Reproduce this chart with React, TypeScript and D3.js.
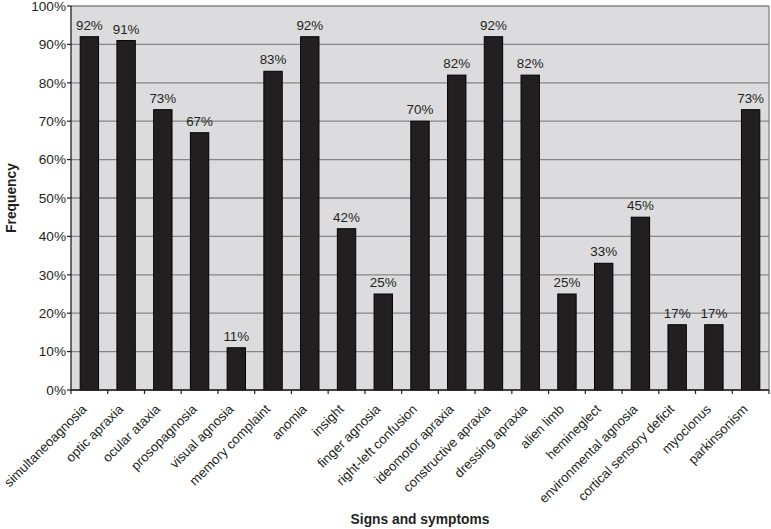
import React from "react";
import * as d3 from "d3";

const categories: string[] = [
  "simultaneoagnosia",
  "optic apraxia",
  "ocular ataxia",
  "prosopagnosia",
  "visual agnosia",
  "memory complaint",
  "anomia",
  "insight",
  "finger agnosia",
  "right-left confusion",
  "ideomotor apraxia",
  "constructive apraxia",
  "dressing apraxia",
  "alien limb",
  "hemineglect",
  "environmental agnosia",
  "cortical sensory deficit",
  "myoclonus",
  "parkinsonism",
];

const frequency: number[] = [
  92, 91, 73, 67, 11, 83, 92, 42, 25, 70, 82, 92, 82, 25, 33, 45, 17, 17, 73,
];

const yTicks: number[] = [0, 10, 20, 30, 40, 50, 60, 70, 80, 90, 100];

const xTitle = "Signs and symptoms";
const yTitle = "Frequency";

export default function App() {
  const W = 771;
  const H = 529;
  const left = 71;
  const right = 769;
  const top = 6;
  const bottom = 390;

  const x = d3
    .scaleBand<string>()
    .domain(categories)
    .range([left, right])
    .paddingInner(0)
    .paddingOuter(0);
  const y = d3.scaleLinear().domain([0, 100]).range([bottom, top]);

  const band = x.bandwidth();
  const barW = band / 2;
  const font = "Liberation Sans, Arial, Helvetica, sans-serif";

  return (
    <svg
      width={W}
      height={H}
      style={{ position: "absolute", left: 0, top: 0, fontFamily: font }}
    >
      <rect x={0} y={0} width={W} height={H} fill="#ffffff" />
      <rect
        x={left}
        y={top}
        width={right - left}
        height={bottom - top}
        fill="#dcdcde"
      />
      {yTicks.map((t) => (
        <line
          key={"g" + t}
          x1={left}
          x2={right}
          y1={y(t)}
          y2={y(t)}
          stroke="#858585"
          strokeWidth={1.3}
        />
      ))}
      <line
        x1={right}
        x2={right}
        y1={top}
        y2={bottom}
        stroke="#858585"
        strokeWidth={1.3}
      />
      {categories.map((c, i) => {
        const cx = (x(c) as number) + band / 2;
        const v = frequency[i];
        return (
          <g key={c}>
            <rect
              x={cx - barW / 2}
              y={y(v)}
              width={barW}
              height={bottom - y(v)}
              fill="#231f20"
              stroke="#000000"
              strokeWidth={1}
            />
            <text
              x={cx}
              y={y(v) - 7}
              textAnchor="middle"
              fontSize={13.4}
              fill="#231f20"
            >
              {v}%
            </text>
          </g>
        );
      })}
      {/* axes */}
      <line x1={left} x2={left} y1={top} y2={bottom} stroke="#231f20" strokeWidth={1.3} />
      <line x1={left} x2={right} y1={bottom} y2={bottom} stroke="#231f20" strokeWidth={1.3} />
      {yTicks.map((t) => (
        <g key={"t" + t}>
          <line x1={left - 4} x2={left} y1={y(t)} y2={y(t)} stroke="#231f20" strokeWidth={1.2} />
          <text
            x={left - 5}
            y={y(t)}
            dy="0.36em"
            textAnchor="end"
            fontSize={13.6}
            fill="#231f20"
          >
            {t}%
          </text>
        </g>
      ))}
      {categories.map((c, i) => (
        <line
          key={"xt" + i}
          x1={x(c) as number}
          x2={x(c) as number}
          y1={bottom}
          y2={bottom + 4}
          stroke="#231f20"
          strokeWidth={1.2}
        />
      ))}
      <line x1={right} x2={right} y1={bottom} y2={bottom + 4} stroke="#231f20" strokeWidth={1.2} />
      {categories.map((c) => {
        const cx = (x(c) as number) + band / 2;
        return (
          <text
            key={"xl" + c}
            transform={`translate(${cx - 2},${bottom + 20}) rotate(-45)`}
            textAnchor="end"
            fontSize={13.2}
            fill="#231f20"
          >
            {c}
          </text>
        );
      })}
      <text
        x={(left + right) / 2}
        y={524}
        textAnchor="middle"
        fontSize={13.8}
        fontWeight="bold"
        fill="#231f20"
      >
        {xTitle}
      </text>
      <text
        transform={`translate(16,${(top + bottom) / 2}) rotate(-90)`}
        textAnchor="middle"
        fontSize={13.8}
        fontWeight="bold"
        fill="#231f20"
      >
        {yTitle}
      </text>
    </svg>
  );
}
